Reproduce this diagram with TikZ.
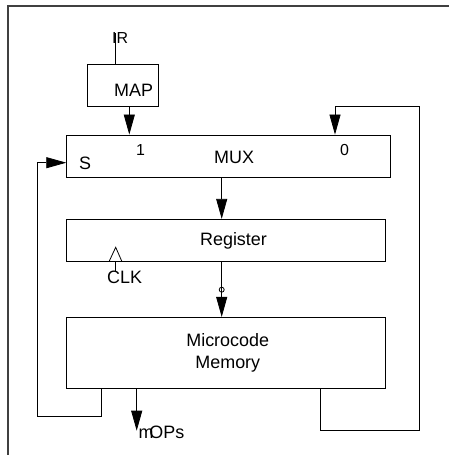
\documentclass[tikz,border=0pt]{standalone}
\usepackage{fontspec}
\setmainfont{Liberation Sans}
\usetikzlibrary{arrows.meta}
\begin{document}
\begin{tikzpicture}[x=1bp,y=-1bp,
  box/.style={draw, line width=0.8bp, inner sep=0pt},
  wire/.style={line width=0.8bp},
  arr/.style={wire, -{Triangle[length=20bp,width=11bp]}},
  lbl/.style={inner sep=0pt, font=\fontsize{18}{21}\selectfont},
  sml/.style={inner sep=0pt, font=\fontsize{16}{19}\selectfont}]
\useasboundingbox (0,0) rectangle (449,455);
% outer frame (cut by the page)
\draw[line width=1.2bp, black!75] (8,460) -- (8,6) -- (455,6);
% boxes
\node[box, minimum width=70.6bp, minimum height=42bp] (map) at (123,85) {};
\node[box, minimum width=324bp, minimum height=42bp] (mux) at (228.7,156) {};
\node[box, minimum width=319bp, minimum height=42bp] (reg) at (226.2,240.3) {};
\node[box, minimum width=319bp, minimum height=70.7bp] (mem) at (226.2,352.7) {};
% labels
\node[sml, anchor=base west] (ir) at (112,43.3) {IR};
\node[lbl, anchor=base west] (maptxt) at (114,96.7) {MAP};
\node[sml, anchor=base west] (one) at (136,156) {1};
\node[lbl, anchor=base west] (muxtxt) at (214,163.3) {MUX};
\node[sml, anchor=base west] (zero) at (340,156) {0};
\node[lbl, anchor=base west] (stxt) at (79,170) {S};
\node[lbl, anchor=base] (regtxt) at (233.5,245) {Register};
\node[lbl, anchor=base west] (clk) at (107,283.3) {CLK};
\node[lbl, anchor=base] (memtxt1) at (227.7,346.7) {Microcode};
\node[lbl, anchor=base] (memtxt2) at (227.8,368.3) {Memory};
\node[lbl, anchor=base west] (uops) at (138.3,438.3) {m\kern-4bp OPs};
% coordinates
\coordinate (irtop) at (115.3,33);
\coordinate (mapx) at (129.3,0);
\coordinate (zx) at (335,0);
\coordinate (dx) at (221.7,0);
\coordinate (rr) at (419,106);
\coordinate (rb) at (320.3,430.7);
\coordinate (lb) at (101.7,416.7);
\coordinate (lx) at (37.7,162.7);
\coordinate (ux) at (136.7,430.7);
\coordinate (bub) at (221.7,289.7);
% connectors
\draw[wire] (irtop) -- (map.north -| irtop);
\draw[arr] (map.south -| mapx) -- (mux.north -| mapx);
\draw[arr] (mux.south -| dx) -- (reg.north -| dx);
\draw[wire] (reg.south -| dx) -- ([yshift=-2.5bp]bub);
\draw[wire] (bub) circle[radius=2.5bp];
\draw[arr] ([yshift=2.5bp]bub) -- (mem.north -| dx);
\draw[arr] (mem.south -| rb) -- (rb) -| (rr) -| (mux.north -| zx);
\draw[arr] (mem.south -| lb) |- (lb -| lx) |- (mux.west |- lx);
\draw[arr] (mem.south -| ux) -- (ux);
% clock
\draw[wire] (reg.south -| 109,0) -- (115.7,247.3) -- (reg.south -| 122,0);
\draw[wire] (reg.south -| 115.7,0) -- (115.7,272);
\end{tikzpicture}
\end{document}
